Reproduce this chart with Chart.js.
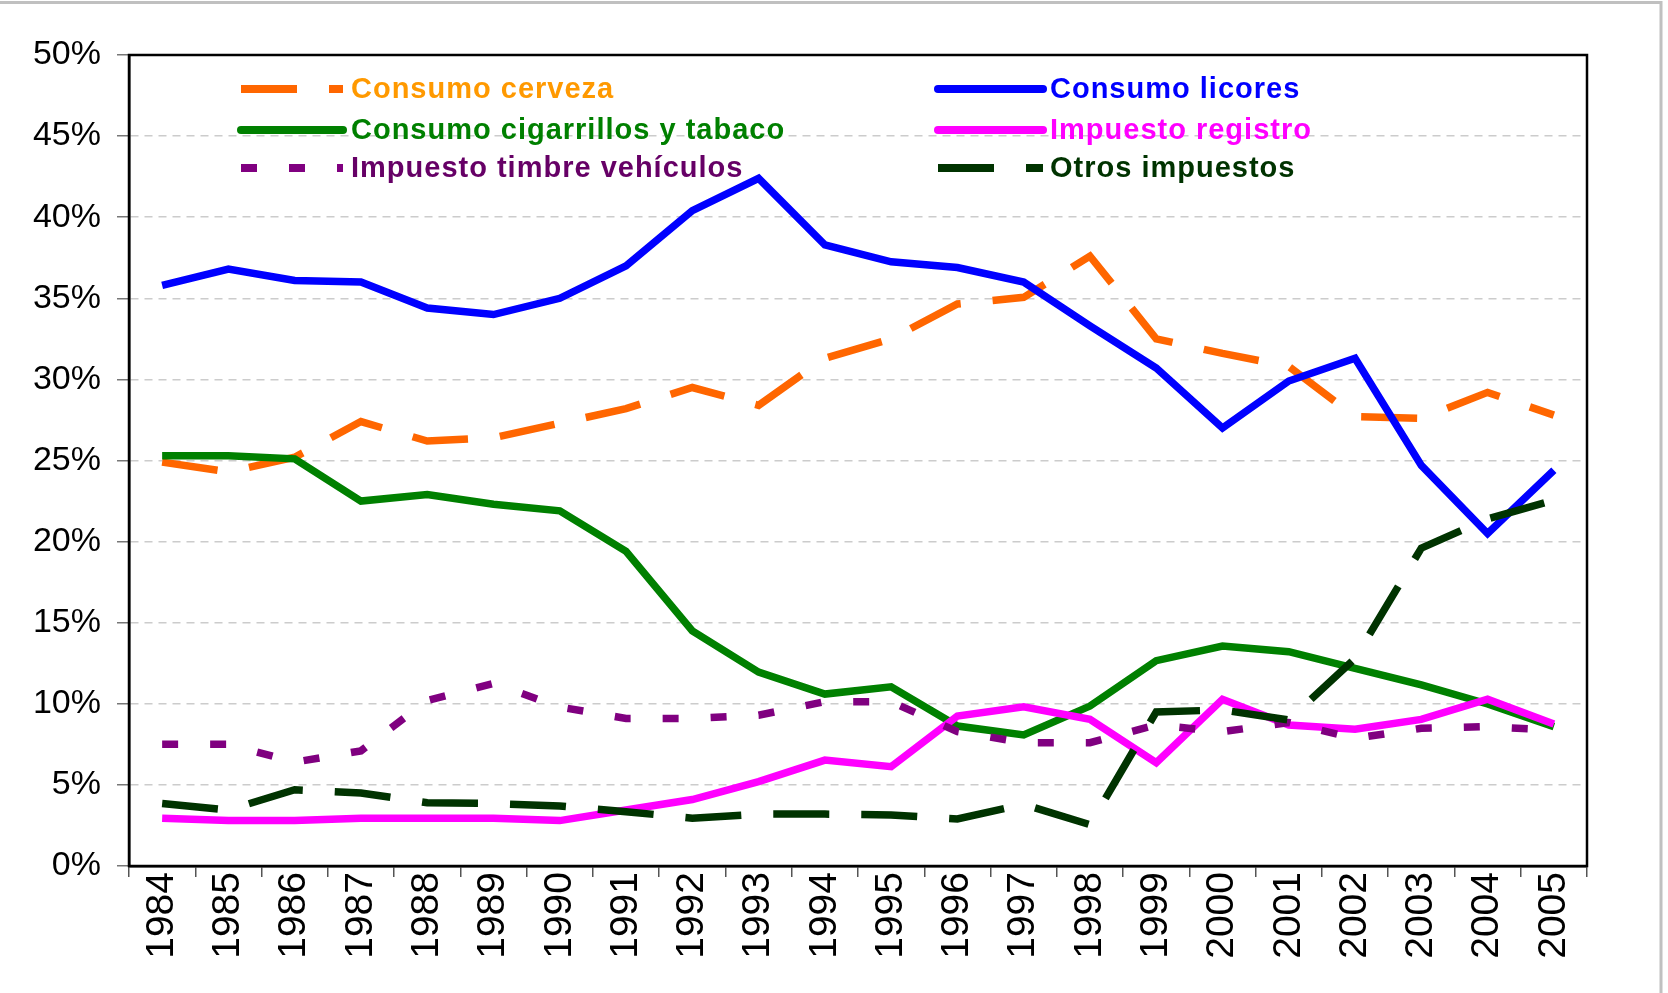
<!DOCTYPE html>
<html>
<head>
<meta charset="utf-8">
<script src="https://cdn.jsdelivr.net/npm/chart.js@4/dist/chart.umd.min.js"></script>
<style>
  html, body { margin: 0; padding: 0; background: #fff; }
  #wrap { width: 1668px; height: 993px; position: relative; }
</style>
</head>
<body>
<div id="wrap"><canvas id="c" width="1668" height="993"></canvas></div>
<script>
const years = ["1984","1985","1986","1987","1988","1989","1990","1991","1992","1993","1994","1995","1996","1997","1998","1999","2000","2001","2002","2003","2004","2005"];
const consumoCerveza = [24.9, 24.3, 25.2, 27.4, 26.2, 26.4, 27.3, 28.2, 29.5, 28.4, 31.3, 32.5, 34.65, 35.06, 37.6, 32.5, 31.6, 30.8, 27.7, 27.6, 29.2, 27.8];
const consumoLicores = [35.8, 36.8, 36.1, 36.0, 34.4, 34.0, 35.0, 37.0, 40.4, 42.4, 38.3, 37.25, 36.9, 36.0, 33.3, 30.7, 27.0, 29.9, 31.3, 24.7, 20.5, 24.4];
const consumoCigarrillos = [25.3, 25.3, 25.1, 22.5, 22.9, 22.3, 21.9, 19.4, 14.5, 11.95, 10.6, 11.05, 8.63, 8.08, 9.86, 12.66, 13.56, 13.21, 12.19, 11.16, 9.99, 8.59];
const impuestoRegistro = [2.95, 2.8, 2.8, 2.95, 2.95, 2.95, 2.8, 3.45, 4.1, 5.2, 6.53, 6.12, 9.25, 9.82, 9.04, 6.37, 10.28, 8.69, 8.43, 9.04, 10.28, 8.75];
const impuestoTimbre = [7.5, 7.5, 6.4, 7.1, 10.2, 11.26, 9.8, 9.1, 9.1, 9.3, 10.13, 10.13, 8.28, 7.6, 7.6, 8.7, 8.28, 8.85, 7.87, 8.49, 8.59, 8.38];
const otrosImpuestos = [3.85, 3.45, 4.7, 4.5, 3.9, 3.85, 3.7, 3.35, 2.95, 3.2, 3.2, 3.15, 2.9, 3.8, 2.55, 9.5, 9.62, 9.0, 12.8, 19.6, 21.4, 22.55];
const yTicks = [0, 5, 10, 15, 20, 25, 30, 35, 40, 45, 50];

const FONT = "'Liberation Sans', Arial, sans-serif";

const seriesDefs = [
  { label: "Consumo cerveza", data: consumoCerveza, color: "#FF6600", text: "#FF9900", dash: [56, 32], order: 6, col: 0, row: 0 },
  { label: "Consumo licores", data: consumoLicores, color: "#0000FF", text: "#0000FF", dash: [], order: 5, col: 1, row: 0 },
  { label: "Consumo cigarrillos y tabaco", data: consumoCigarrillos, color: "#008000", text: "#008000", dash: [], order: 4, col: 0, row: 1 },
  { label: "Impuesto registro", data: impuestoRegistro, color: "#FF00FF", text: "#FF00FF", dash: [], order: 3, col: 1, row: 1 },
  { label: "Impuesto timbre vehículos", data: impuestoTimbre, color: "#800080", text: "#660066", dash: [16, 32], order: 2, col: 0, row: 2 },
  { label: "Otros impuestos", data: otrosImpuestos, color: "#003300", text: "#003300", dash: [56, 32], order: 1, col: 1, row: 2 }
];

const datasets = seriesDefs.map(s => ({
  label: s.label,
  data: s.data,
  borderColor: s.color,
  backgroundColor: s.color,
  borderWidth: 7.5,
  borderDash: s.dash,
  borderCapStyle: 'butt',
  borderJoinStyle: 'miter',
  pointRadius: 0,
  pointHoverRadius: 0,
  tension: 0,
  fill: false,
  order: s.order
}));

const framePlugin = {
  id: 'frame',
  beforeDraw(chart) {
    const ctx = chart.ctx;
    ctx.save();
    ctx.fillStyle = '#fff';
    ctx.fillRect(0, 0, chart.width, chart.height);
    ctx.restore();
  },
  afterDraw(chart) {
    const ctx = chart.ctx;
    const a = chart.chartArea;
    ctx.save();
    ctx.strokeStyle = '#c0c0c0';
    ctx.lineWidth = 3;
    ctx.beginPath();
    ctx.moveTo(0, 2.5);
    ctx.lineTo(1661, 2.5);
    ctx.lineTo(1661, chart.height);
    ctx.stroke();
    ctx.strokeStyle = '#000';
    ctx.lineWidth = 2.5;
    ctx.strokeRect(a.left, a.top, a.right - a.left, a.bottom - a.top);
    const cols = [{ x1: 241, x2: 343, tx: 351 }, { x1: 938, x2: 1043, tx: 1050 }];
    const rows = [89, 130, 168];
    seriesDefs.forEach(s => {
      const c = cols[s.col];
      const y = rows[s.row];
      ctx.save();
      ctx.strokeStyle = s.color;
      ctx.lineWidth = 8;
      ctx.setLineDash(s.dash);
      ctx.lineCap = s.dash.length ? 'butt' : 'round';
      ctx.beginPath();
      ctx.moveTo(c.x1, y);
      ctx.lineTo(c.x2, y);
      ctx.stroke();
      ctx.restore();
      ctx.save();
      ctx.fillStyle = s.text;
      ctx.font = "bold 29px " + FONT;
      try { ctx.letterSpacing = '1px'; } catch (e) {}
      ctx.textBaseline = 'middle';
      ctx.textAlign = 'left';
      ctx.fillText(s.label, c.tx, y + 1);
      ctx.restore();
    });
    ctx.restore();
  }
};

new Chart(document.getElementById('c'), {
  type: 'line',
  data: { labels: years, datasets },
  options: {
    responsive: false,
    animation: false,
    devicePixelRatio: 1,
    layout: { padding: { left: 0, top: 55, right: 81, bottom: 0 } },
    plugins: { legend: { display: false }, tooltip: { enabled: false }, title: { display: false } },
    scales: {
      x: {
        offset: true,
        grid: { offset: true, drawOnChartArea: false, drawTicks: true, tickLength: 11, color: '#555', lineWidth: 1.5 },
        border: { display: true, color: '#000', width: 2.5 },
        ticks: { autoSkip: false, maxRotation: 90, minRotation: 90, padding: -5, color: '#000', font: { family: FONT, size: 39 } },
        afterFit(scale) { scale.height = 127; }
      },
      y: {
        min: 0, max: 50,
        afterBuildTicks(scale) { scale.ticks = yTicks.map(v => ({ value: v })); },
        grid: { color: '#cccccc', lineWidth: 1.5, drawTicks: true, tickLength: 12, tickColor: '#777', tickBorderDash: [] },
        border: { display: true, color: '#000', width: 2.5, dash: [8, 6] },
        ticks: { padding: 16, color: '#000', font: { family: FONT, size: 34 }, callback: v => v + '%' },
        afterFit(scale) { scale.width = 129; }
      }
    }
  },
  plugins: [framePlugin]
});
</script>
</body>
</html>
